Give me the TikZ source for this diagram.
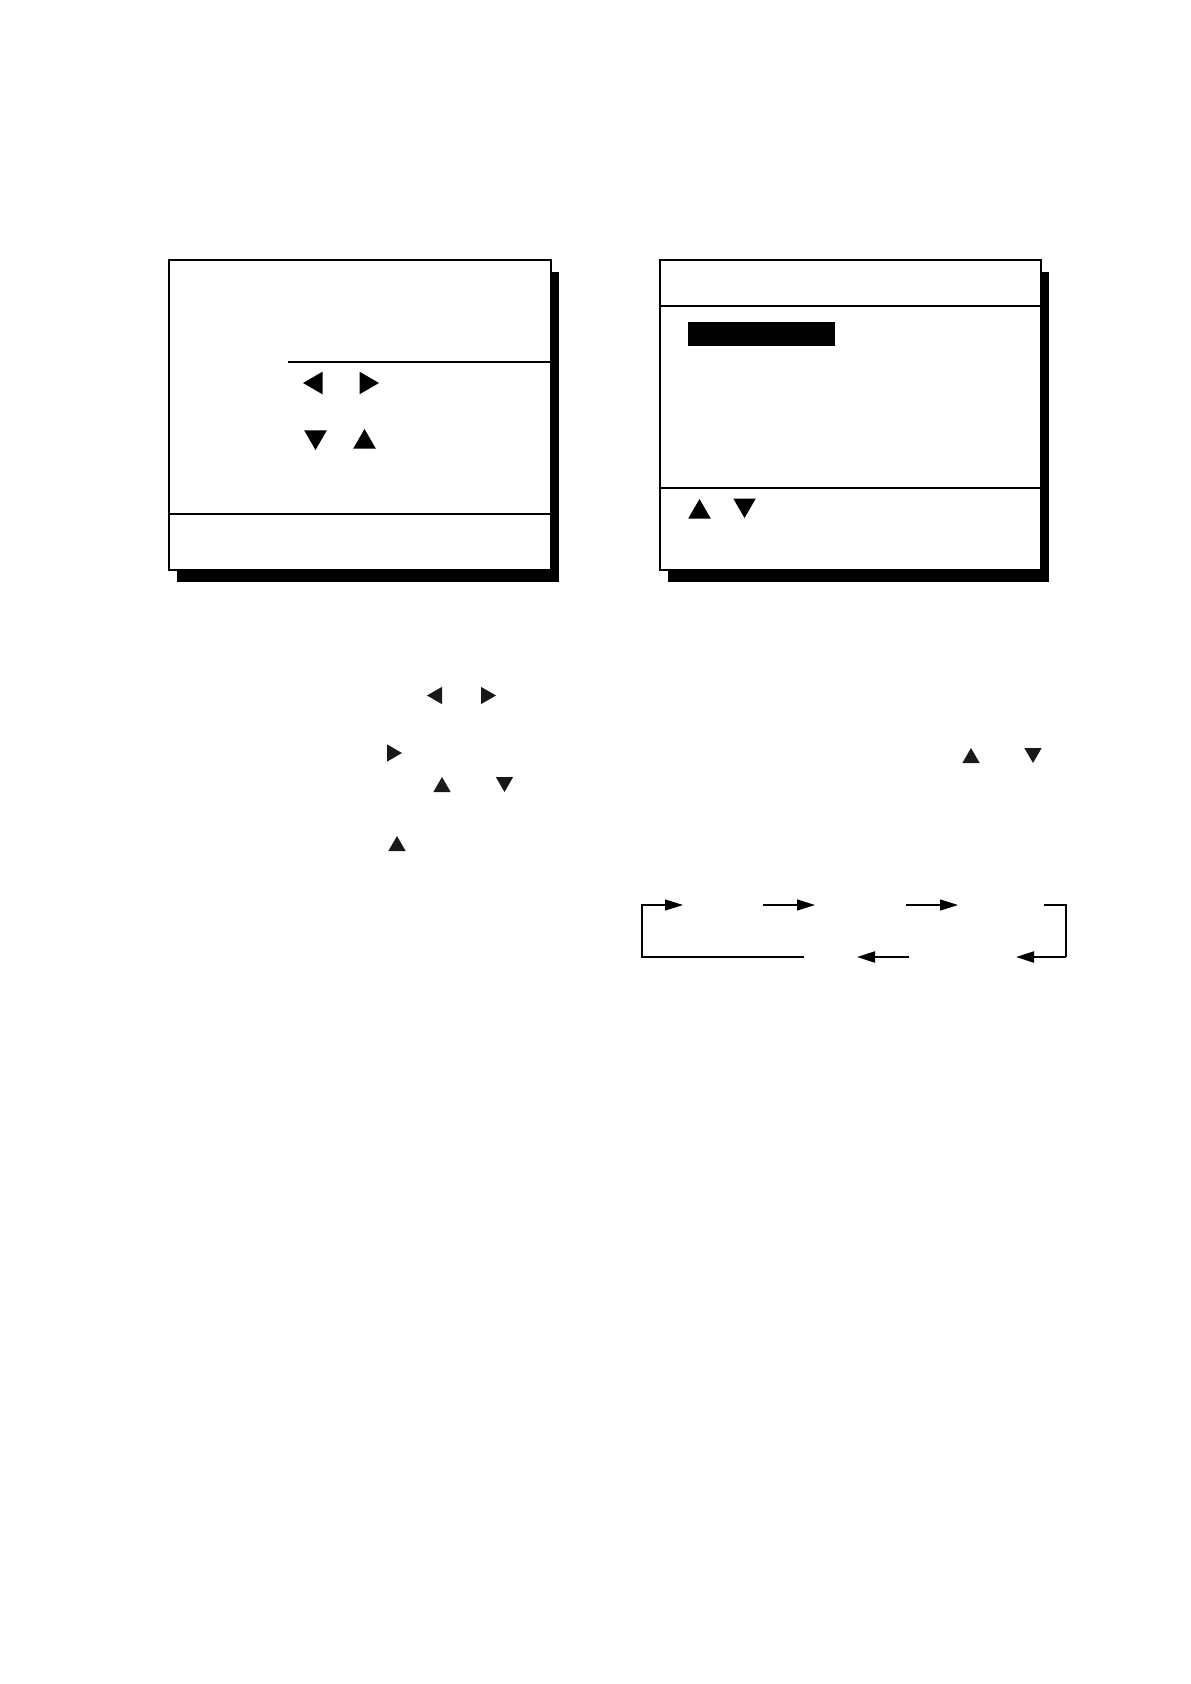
\documentclass[tikz,border=0pt]{standalone}
\usepackage{tikz}
\usetikzlibrary{shapes.geometric, arrows.meta, shadows, positioning}
\tikzset{
  %-----------------%
  %  Screen boxes   %
  %-----------------%
  % Screen with its black drop shadow
  box_screen/.style={
    rectangle,
    draw=black,
    fill=white,
    line width=0.6pt,
    inner sep=0pt,
    minimum height=155pt,
    drop shadow={shadow xshift=4pt, shadow yshift=-6pt, fill=black, opacity=1}
  },
  % Separator inside a screen
  rule/.style={draw, line width=0.6pt},
  % Highlighted menu line
  box_cursor/.style={
    rectangle,
    fill=black,
    inner sep=0pt,
    minimum width=73.5pt,
    minimum height=12pt
  },
  %-----------------%
  %   Key symbols   %
  %-----------------%
  key_big/.style={
    regular polygon,
    regular polygon sides=3,
    fill=black,
    inner sep=0pt,
    minimum size=13pt
  },
  key_small/.style={
    regular polygon,
    regular polygon sides=3,
    fill=black!90,
    inner sep=0pt,
    minimum size=10pt
  },
  up/.style={},
  down/.style={shape border rotate=180},
  left/.style={shape border rotate=90},
  right/.style={shape border rotate=-90},
  %----------------%
  %     Arrows     %
  %----------------%
  arrow/.style={draw, line width=0.6pt, ->, >={Triangle[length=9pt, width=5.5pt]}},
  arrow_back/.style={arrow, line width=1.1pt},
}

\begin{document}
\begin{tikzpicture}[x=0.5pt, y=-0.5pt]
    \useasboundingbox (0, 0) rectangle (1190, 1684);

    %---------------%
    %  Left screen  %
    %---------------%
    \node (scr_left) [box_screen, minimum width=191pt] at (360, 415) {};
    \draw [rule] (288, 362) -- (551, 362);
    \draw [rule] (169, 514) -- (551, 514);
    % Keys in the left screen
    \node (sl_left)  [key_big, left]  at (316, 383) {};
    \node (sl_right) [key_big, right] at (366, 383) {};
    \node (sl_down)  [key_big, down]  at (315.5, 437) {};
    \node (sl_up)    [key_big, up]    at (364.5, 442) {};

    %----------------%
    %  Right screen  %
    %----------------%
    \node (scr_right) [box_screen, minimum width=190.5pt] at (850.5, 415) {};
    \draw [rule] (660, 306) -- (1041, 306);
    \draw [rule] (660, 488) -- (1041, 488);
    % Cursor bar
    \node (cursor) [box_cursor] at (761.5, 334) {};
    % Keys in the right screen
    \node (sr_up)   [key_big, up]   at (699.5, 512) {};
    \node (sr_down) [key_big, down] at (744.5, 505) {};

    %--------------------%
    %  Keys in the text  %
    %--------------------%
    \node (t1_left)  [key_small, left]  at (437, 695.5) {};
    \node (t1_right) [key_small, right] at (486, 695.5) {};
    \node (t2_right) [key_small, right] at (392, 753) {};
    \node (t3_up)    [key_small, up]    at (442, 787) {};
    \node (t3_down)  [key_small, down]  at (504.5, 782) {};
    \node (t4_up)    [key_small, up]    at (397, 846) {};
    \node (t5_up)    [key_small, up]    at (971, 758) {};
    \node (t5_down)  [key_small, down]  at (1033, 753) {};

    %---------------%
    %  Mode cycle   %
    %---------------%
    % Top row
    \coordinate (m1_in)   at (683, 905);
    \coordinate (m1_out)  at (763, 905);
    \coordinate (m2_in)   at (815, 905);
    \coordinate (m2_out)  at (906, 905);
    \coordinate (m3_in)   at (958, 905);
    \coordinate (m3_out)  at (1044, 905);
    % Bottom row
    \coordinate (m4_in)   at (1016, 957);
    \coordinate (m4_out)  at (909, 957);
    \coordinate (m5_in)   at (857, 957);
    \coordinate (m5_out)  at (804, 957);
    % Corners of the loop
    \coordinate (loop_bl) at (642, 957);
    \coordinate (loop_tl) at (642, 905);
    \coordinate (loop_r)  at (1066, 905);

    % Last mode --> first mode
    \draw [arrow] (m5_out) -- (loop_bl) -- (loop_tl) -- (m1_in);
    % First mode --> second mode
    \draw [arrow] (m1_out) -- (m2_in);
    % Second mode --> third mode
    \draw [arrow] (m2_out) -- (m3_in);
    % Third mode --> fourth mode
    \draw [rule] (m3_out) -- (loop_r) -- (loop_r |- m4_in);
    \draw [arrow_back] (loop_r |- m4_in) -- (m4_in);
    % Fourth mode --> fifth mode
    \draw [arrow_back] (m4_out) -- (m5_in);
  \end{tikzpicture}
\end{document}
